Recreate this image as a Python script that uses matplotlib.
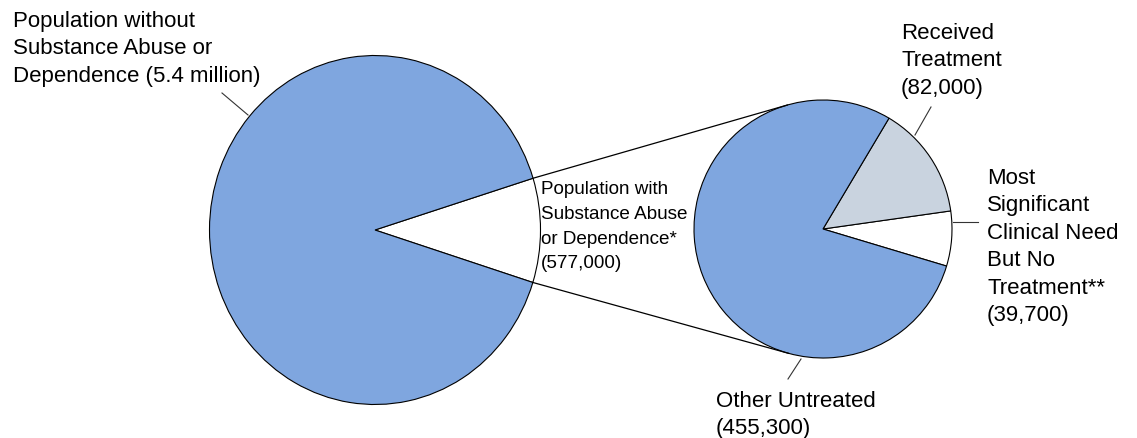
import numpy as np
import matplotlib
matplotlib.use("Agg")
import matplotlib.pyplot as plt

plt.rcParams['font.family'] = ['Liberation Sans', 'DejaVu Sans']

# data
main_labels = ['Population with Substance Abuse or Dependence', 'Population without Substance Abuse or Dependence']
main_values = [577000, 5400000]
sub_labels = ['Most Significant Clinical Need But No Treatment', 'Received Treatment', 'Other Untreated']
sub_values = [39700, 82000, 455300]

blue = '#7FA6DF'
grey = '#C9D3DF'
main_colors = ['white', blue]
sub_colors = ['white', grey, blue]

W, H = 1137, 438
fig = plt.figure(figsize=(W / 100, H / 100), dpi=100)

# pie geometry in pixels (y measured from top)
big_c, big_rx, big_ry = (375, 230), 165.5, 174.5
small_c, small_r = (823, 229), 129
m = 1.05
big_start = -17.5
small_start = -16.7


def pie_axes(c, rx, ry):
    cx, cy = c
    return fig.add_axes([(cx - rx * m) / W, (H - cy - ry * m) / H,
                         2 * rx * m / W, 2 * ry * m / H])


wp = dict(edgecolor='black', linewidth=0.8)

ax_big = pie_axes(big_c, big_rx, big_ry)
ax_big.pie(main_values, colors=main_colors, startangle=big_start,
           counterclock=True, wedgeprops=wp)
ax_big.set_xlim(-m, m)
ax_big.set_ylim(-m, m)
ax_big.set_aspect('auto')

ax_small = pie_axes(small_c, small_r, small_r)
ax_small.pie(sub_values, colors=sub_colors, startangle=small_start,
             counterclock=True, wedgeprops=wp)
ax_small.set_xlim(-m, m)
ax_small.set_ylim(-m, m)
ax_small.set_aspect('auto')

# overlay in pixel coordinates
ax = fig.add_axes([0, 0, 1, 1])
ax.set_xlim(0, W)
ax.set_ylim(H, 0)
ax.axis('off')
ax.patch.set_alpha(0)

# connecting lines: from the edges of the exploded wedge, tangent to the small pie
frac = main_values[0] / sum(main_values)
a_lo = np.deg2rad(big_start)
a_hi = np.deg2rad(big_start + 360 * frac)


def edge_pt(a):
    return np.array([big_c[0] + big_rx * np.cos(a), big_c[1] - big_ry * np.sin(a)])


def tangent(p, upper):
    d = np.array(small_c) - p
    dist = np.hypot(*d)
    base = np.arctan2(d[1], d[0])
    off = np.arcsin(small_r / dist)
    ang = base - off if upper else base + off
    L = np.sqrt(dist ** 2 - small_r ** 2)
    return p + L * np.array([np.cos(ang), np.sin(ang)])


for a, upper in [(a_hi, True), (a_lo, False)]:
    p = edge_pt(a)
    t = tangent(p, upper)
    ax.plot([p[0], t[0]], [p[1], t[1]], color='black', lw=0.9)

lead = dict(color='#333333', lw=0.8)
fs = 16
ls = 1.4

ax.text(13, 11, 'Population without\nSubstance Abuse or\nDependence (5.4 million)',
        fontsize=fs, va='top', ha='left', linespacing=ls)
ax.plot([222, 248], [93, 115], **lead)

ax.text(541, 181, 'Population with\nSubstance Abuse\nor Dependence*\n(577,000)',
        fontsize=13.6, va='top', ha='left', linespacing=1.6)

ax.text(901, 23, 'Received\nTreatment\n(82,000)',
        fontsize=fs, va='top', ha='left', linespacing=ls)
ax.plot([931, 915], [107, 135], **lead)

ax.text(987, 168, 'Most\nSignificant\nClinical Need\nBut No\nTreatment**\n(39,700)',
        fontsize=fs, va='top', ha='left', linespacing=ls)
ax.plot([953, 978], [222, 222], **lead)

ax.text(716, 391, 'Other Untreated\n(455,300)',
        fontsize=fs, va='top', ha='left', linespacing=ls)
ax.plot([801, 788], [359, 379], **lead)

fig.savefig('out.png', dpi=100)
